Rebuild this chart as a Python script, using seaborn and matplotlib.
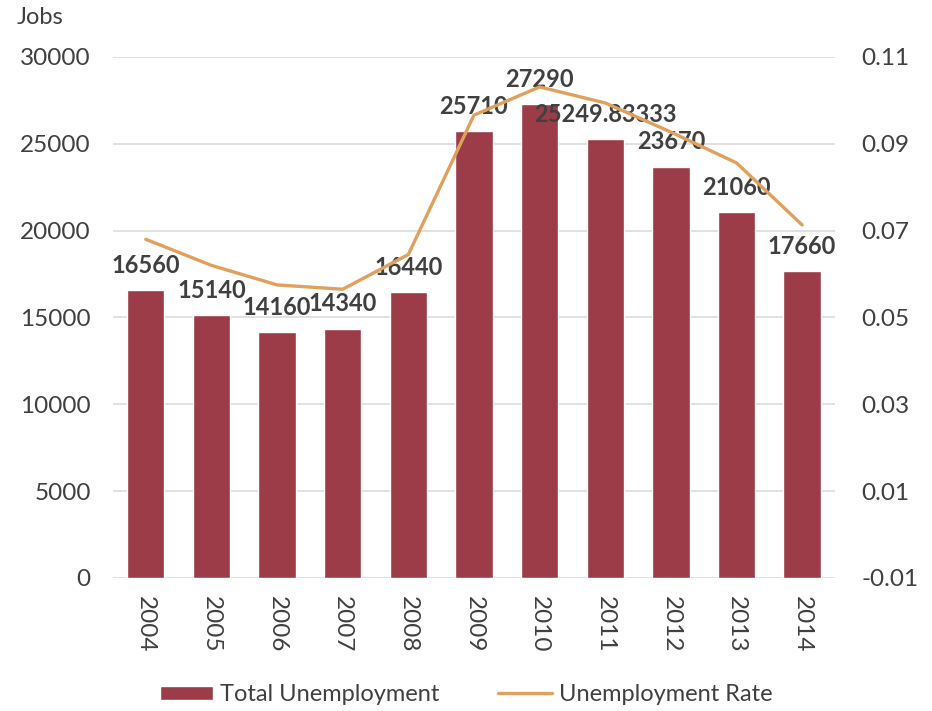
import pandas as pd
import numpy as np
import matplotlib.pyplot as plt
import seaborn as sns

years = ['2004', '2005', '2006', '2007', '2008', '2009', '2010', '2011', '2012', '2013', '2014']
total_unemployment = [16560, 15140, 14160, 14340, 16440, 25710, 27290, 25249.83333, 23670, 21060, 17660]
unemployment_rate = [0.068, 0.062, 0.0575, 0.0565, 0.0645, 0.0966, 0.1031, 0.0994, 0.0927, 0.0856, 0.0713]
bar_labels = ['16560', '15140', '14160', '14340', '16440', '25710', '27290', '25249.83333', '23670', '21060', '17660']

df = pd.DataFrame({'Year': years, 'Total Unemployment': total_unemployment,
                   'Unemployment Rate': unemployment_rate})

sns.set_style('white')
plt.rcParams['font.family'] = ['Lato', 'DejaVu Sans']

bar_color = '#9b3c48'
line_color = '#dfa15d'
text_color = '#404040'

fig = plt.figure(figsize=(9.32, 7.11), dpi=100)
ax = fig.add_axes([0.1212, 0.1871, 0.7747, 0.7328])

sns.barplot(x='Year', y='Total Unemployment', data=df, color=bar_color,
            width=0.57, saturation=1, ax=ax, label='Total Unemployment', zorder=2)
ax.set_xlim(-0.5, 10.5)
ax.set_ylim(0, 30000)
ax.set_yticks(np.arange(0, 30001, 5000))
ax.yaxis.grid(True, color='#d9d9d9', linewidth=1.1, zorder=0)
ax.set_axisbelow(True)
for s in ax.spines.values():
    s.set_visible(False)
ax.tick_params(axis='y', length=0, labelsize=17.5, labelcolor=text_color, pad=16)
ax.tick_params(axis='x', length=0, labelrotation=-90, labelsize=17.5, labelcolor=text_color, pad=13)
ax.set_xlabel('')
ax.set_ylabel('')

for i, (v, lab) in enumerate(zip(total_unemployment, bar_labels)):
    ax.annotate(lab, (i, v), xytext=(0, 18), textcoords='offset points',
                ha='center', va='center', fontsize=17, fontweight='bold',
                color=text_color, zorder=5)

ax2 = ax.twinx()
sns.lineplot(x='Year', y='Unemployment Rate', data=df, color=line_color,
             linewidth=2.4, ax=ax2, label='Unemployment Rate', legend=False)
ax2.set_ylim(-0.01, 0.11)
ax2.set_yticks(np.arange(-0.01, 0.1101, 0.02))
ax2.set_yticklabels(['-0.01', '0.01', '0.03', '0.05', '0.07', '0.09', '0.11'])
for s in ax2.spines.values():
    s.set_visible(False)
ax2.tick_params(axis='y', length=0, labelsize=17.5, labelcolor=text_color, pad=19)
ax2.set_ylabel('')
ax2.set_xlim(-0.5, 10.5)

fig.text(0.018, 0.976, 'Jobs', fontsize=17, color=text_color, va='center', ha='left')

h1, l1 = ax.get_legend_handles_labels()
h2, l2 = ax2.get_legend_handles_labels()
if ax.get_legend() is not None:
    ax.get_legend().remove()
fig.legend(h1 + h2, l1 + l2, loc='center', bbox_to_anchor=(0.5, 0.023), ncol=2,
           frameon=False, fontsize=17, handlelength=2.25, handleheight=0.55,
           columnspacing=2.5, handletextpad=0.3, labelcolor=text_color,
           borderaxespad=0, borderpad=0)

plt.savefig('out.png', dpi=100)
